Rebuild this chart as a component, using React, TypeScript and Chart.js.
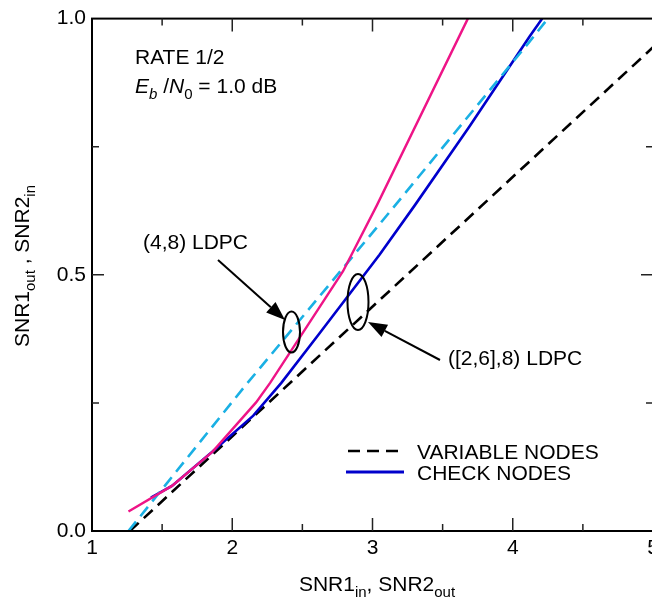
import React, { useEffect, useRef } from "react";
import { Chart, registerables } from "chart.js";

Chart.register(...registerables);

// ---------- data ----------
const variableNodesX = [1.27, 5.0];
const variableNodesY = [0.0, 0.944];

const checkNodesX = [1.42, 1.57, 1.86, 2.15, 2.35, 2.62, 3.05, 3.3, 3.69, 4.12, 4.21];
const checkNodesY = [0.065, 0.088, 0.155, 0.225, 0.289, 0.385, 0.539, 0.635, 0.789, 0.965, 1.0];

const ldpc48CheckX = [1.26, 1.57, 1.86, 2.17, 2.27, 2.79, 3.03, 3.68];
const ldpc48CheckY = [0.038, 0.088, 0.155, 0.251, 0.289, 0.507, 0.635, 1.0];

const ldpc48VarX = [1.26, 2.1, 3.16, 4.12, 4.25];
const ldpc48VarY = [0.0, 0.286, 0.635, 0.955, 1.0];

const xMajorTicks = [2, 3, 4];
const xMinorTicks = [1.5, 2.5, 3.5, 4.5];
const yMajorTicks = [0.5];
const yMinorTicks = [0.25, 0.75];

const FONT = '"Liberation Sans", Arial, Helvetica, sans-serif';

type Part = { t: string; sub?: boolean; italic?: boolean };

function measureParts(ctx: CanvasRenderingContext2D, parts: Part[], size: number) {
  let w = 0;
  for (const p of parts) {
    const s = p.sub ? Math.round(size * 0.72) : size;
    ctx.font = `${p.italic ? "italic " : ""}${s}px ${FONT}`;
    w += ctx.measureText(p.t).width;
  }
  return w;
}

function drawParts(ctx: CanvasRenderingContext2D, parts: Part[], x: number, y: number, size: number) {
  let cx = x;
  ctx.textAlign = "left";
  ctx.textBaseline = "alphabetic";
  for (const p of parts) {
    const s = p.sub ? Math.round(size * 0.72) : size;
    ctx.font = `${p.italic ? "italic " : ""}${s}px ${FONT}`;
    ctx.fillText(p.t, cx, p.sub ? y + size * 0.28 : y);
    cx += ctx.measureText(p.t).width;
  }
}

function arrow(ctx: CanvasRenderingContext2D, x1: number, y1: number, x2: number, y2: number) {
  const ang = Math.atan2(y2 - y1, x2 - x1);
  const L = 19;
  const W = 7;
  const bx = x2 - L * Math.cos(ang);
  const by = y2 - L * Math.sin(ang);
  ctx.beginPath();
  ctx.moveTo(x1, y1);
  ctx.lineTo(bx, by);
  ctx.lineWidth = 2;
  ctx.strokeStyle = "#000";
  ctx.stroke();
  ctx.beginPath();
  ctx.moveTo(x2, y2);
  ctx.lineTo(bx + W * Math.sin(ang), by - W * Math.cos(ang));
  ctx.lineTo(bx - W * Math.sin(ang), by + W * Math.cos(ang));
  ctx.closePath();
  ctx.fillStyle = "#000";
  ctx.fill();
}

const decorPlugin = {
  id: "decor",
  afterDraw(chart: any) {
    const ctx: CanvasRenderingContext2D = chart.ctx;
    const { left, right, top, bottom } = chart.chartArea;
    const xs = chart.scales.x;
    const ys = chart.scales.y;
    ctx.save();
    // frame
    ctx.strokeStyle = "#000";
    ctx.lineWidth = 2;
    ctx.strokeRect(left, top, right - left, bottom - top);

    // inward ticks
    ctx.lineWidth = 1.5;
    ctx.strokeStyle = "#222";
    const tk = (vals: number[], len: number, axis: "x" | "y") => {
      for (const v of vals) {
        ctx.beginPath();
        if (axis === "x") {
          const p = xs.getPixelForValue(v);
          ctx.moveTo(p, bottom);
          ctx.lineTo(p, bottom - len);
          ctx.moveTo(p, top);
          ctx.lineTo(p, top + len);
        } else {
          const p = ys.getPixelForValue(v);
          ctx.moveTo(left, p);
          ctx.lineTo(left + len, p);
          ctx.moveTo(right, p);
          ctx.lineTo(right - len, p);
        }
        ctx.stroke();
      }
    };
    tk(xMajorTicks, 13, "x");
    tk(xMinorTicks, 7, "x");
    tk(yMajorTicks, 12, "y");
    tk(yMinorTicks, 7, "y");

    ctx.fillStyle = "#000";
    const fs = 21;
    // annotations
    drawParts(ctx, [{ t: "RATE 1/2" }], 135, 64, fs);
    drawParts(
      ctx,
      [
        { t: "E", italic: true },
        { t: "b", italic: true, sub: true },
        { t: " /" },
        { t: "N", italic: true },
        { t: "0", sub: true },
        { t: " = 1.0 dB" },
      ],
      135,
      93,
      fs
    );
    drawParts(ctx, [{ t: "(4,8) LDPC" }], 143, 249, fs);
    drawParts(ctx, [{ t: "([2,6],8) LDPC" }], 448, 365, fs);

    // ellipses
    ctx.lineWidth = 2;
    ctx.strokeStyle = "#000";
    ctx.beginPath();
    ctx.ellipse(291.5, 332, 8.5, 20.5, 0, 0, Math.PI * 2);
    ctx.stroke();
    ctx.beginPath();
    ctx.ellipse(358, 302, 10.5, 28, 0, 0, Math.PI * 2);
    ctx.stroke();
    arrow(ctx, 218, 260, 285, 320);
    arrow(ctx, 440, 360, 368, 322);

    // legend
    ctx.lineWidth = 2.5;
    ctx.setLineDash([12, 7]);
    ctx.strokeStyle = "#000";
    ctx.beginPath();
    ctx.moveTo(348, 451);
    ctx.lineTo(404, 451);
    ctx.stroke();
    ctx.setLineDash([]);
    ctx.strokeStyle = "#0000CC";
    ctx.lineWidth = 3;
    ctx.beginPath();
    ctx.moveTo(346, 472);
    ctx.lineTo(404, 472);
    ctx.stroke();
    ctx.fillStyle = "#000";
    drawParts(ctx, [{ t: "VARIABLE NODES" }], 417, 459, fs);
    drawParts(ctx, [{ t: "CHECK NODES" }], 417, 480, fs);

    // axis titles
    const xt: Part[] = [{ t: "SNR1" }, { t: "in", sub: true }, { t: ", SNR2" }, { t: "out", sub: true }];
    const xw = measureParts(ctx, xt, fs);
    drawParts(ctx, xt, 377 - xw / 2, 591, fs);

    const yt: Part[] = [{ t: "SNR1" }, { t: "out", sub: true }, { t: " , SNR2" }, { t: "in", sub: true }];
    const yw = measureParts(ctx, yt, fs);
    ctx.translate(29, 266);
    ctx.rotate(-Math.PI / 2);
    drawParts(ctx, yt, -yw / 2, 0, fs);
    ctx.restore();
  },
};

const pts = (xs: number[], ys: number[]) => xs.map((x, i) => ({ x, y: ys[i] }));

export default function App() {
  const ref = useRef<HTMLCanvasElement | null>(null);
  useEffect(() => {
    if (!ref.current) return;
    const chart = new Chart(ref.current, {
      type: "line",
      data: {
        datasets: [
          {
            label: "(4,8) check nodes",
            data: pts(ldpc48CheckX, ldpc48CheckY),
            borderColor: "#EE1487",
            borderWidth: 2.4,
            pointRadius: 0,
            tension: 0,
          },
          {
            label: "(4,8) variable nodes",
            data: pts(ldpc48VarX, ldpc48VarY),
            borderColor: "#1AB0E4",
            borderWidth: 2.6,
            borderDash: [12, 7],
            pointRadius: 0,
            tension: 0,
          },
          {
            label: "CHECK NODES",
            data: pts(checkNodesX, checkNodesY),
            borderColor: "#0000CC",
            borderWidth: 2.6,
            pointRadius: 0,
            tension: 0,
          },
          {
            label: "VARIABLE NODES",
            data: pts(variableNodesX, variableNodesY),
            borderColor: "#000",
            borderWidth: 2.6,
            borderDash: [12, 7],
            pointRadius: 0,
            tension: 0,
          },
        ],
      },
      options: {
        animation: false,
        responsive: false,
        maintainAspectRatio: false,
        layout: { padding: { left: 0, top: 10, right: 27, bottom: 0 } },
        plugins: { legend: { display: false }, tooltip: { enabled: false } },
        scales: {
          x: {
            type: "linear",
            min: 1,
            max: 5,
            grid: { display: false, drawTicks: false },
            border: { display: false },
            ticks: {
              stepSize: 1,
              padding: 5,
              color: "#000",
              font: { family: FONT, size: 21 },
              callback: (v: any) => String(v),
            },
            afterFit: (s: any) => {
              s.height = 70;
            },
          },
          y: {
            type: "linear",
            min: 0,
            max: 1,
            grid: { display: false, drawTicks: false },
            border: { display: false },
            ticks: {
              stepSize: 0.5,
              padding: 6,
              color: "#000",
              font: { family: FONT, size: 21 },
              callback: (v: any) => Number(v).toFixed(1),
            },
            afterFit: (s: any) => {
              s.width = 92;
            },
          },
        },
      },
      plugins: [decorPlugin],
    });
    return () => chart.destroy();
  }, []);
  return (
    <div style={{ position: "fixed", left: 0, top: 0, width: 652, height: 601, overflow: "hidden", background: "#fff" }}>
      <canvas ref={ref} width={680} height={601} style={{ display: "block" }} />
    </div>
  );
}
